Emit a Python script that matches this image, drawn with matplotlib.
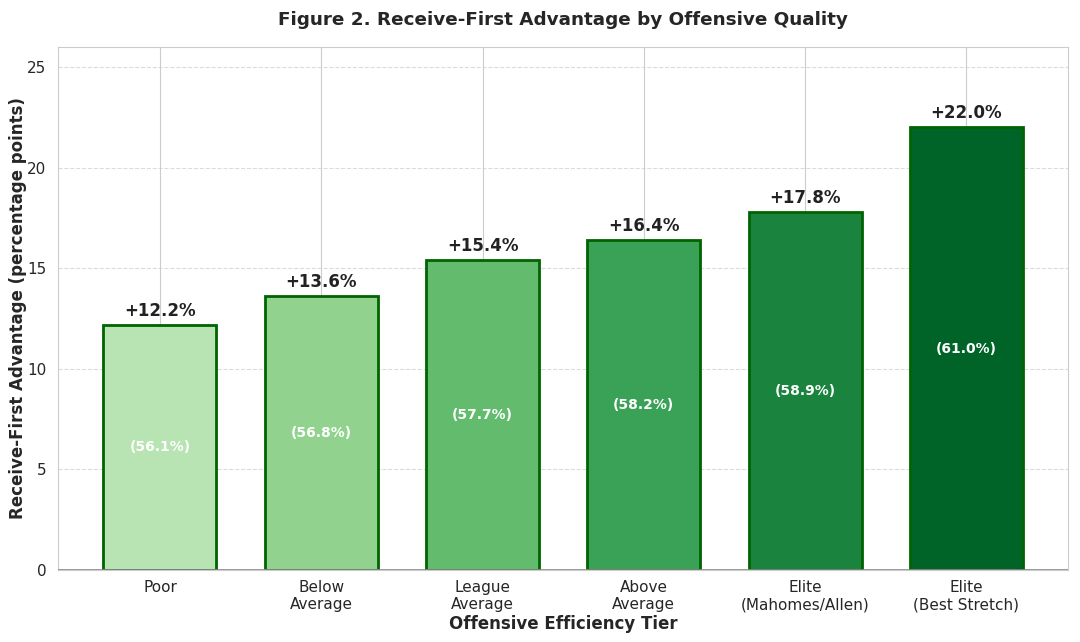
import numpy as np
import matplotlib
matplotlib.use("Agg")
import matplotlib.pyplot as plt
import seaborn as sns

tiers = ["Poor", "Below\nAverage", "League\nAverage", "Above\nAverage",
         "Elite\n(Mahomes/Allen)", "Elite\n(Best Stretch)"]
advantage = [12.2, 13.6, 15.4, 16.4, 17.8, 22.0]
win_rate = [56.1, 56.8, 57.7, 58.2, 58.9, 61.0]

sns.set_style("whitegrid")
plt.rcParams['font.family'] = ['DejaVu Sans']

colors = plt.cm.Greens(np.linspace(0.3, 0.9, len(tiers)))

fig, ax = plt.subplots(figsize=(10.8, 6.42), dpi=100)
x = np.arange(len(tiers))
bars = ax.bar(x, advantage, width=0.7, color=colors, edgecolor="#006400", linewidth=2)

for xi, adv, wr in zip(x, advantage, win_rate):
    ax.text(xi, adv + 0.25, f"+{adv:.1f}%", ha="center", va="bottom",
            fontsize=12, fontweight="bold", color="#222222")
    ax.text(xi, adv / 2, f"({wr:.1f}%)", ha="center", va="center",
            fontsize=10, fontweight="bold", color="white")

# baseline over the bar bottoms
ax.axhline(0, color="#888888", linewidth=1.2, zorder=5)

ax.set_xticks(x)
ax.set_xticklabels(tiers, fontsize=11)
ax.tick_params(axis="y", labelsize=11, pad=5)
ax.set_ylim(0, 26)
ax.set_xlim(-0.63, 5.63)
ax.grid(True, axis="y", linestyle="--", alpha=0.7)
ax.set_axisbelow(True)
ax.set_ylabel("Receive-First Advantage (percentage points)", fontsize=12,
              fontweight="bold", labelpad=0)
ax.set_xlabel("Offensive Efficiency Tier", fontsize=12, fontweight="bold", labelpad=2)
ax.set_title("Figure 2. Receive-First Advantage by Offensive Quality",
             fontsize=13.2, fontweight="bold", pad=16)

plt.subplots_adjust(left=0.054, right=0.989, top=0.927, bottom=0.112)
plt.savefig("out.png")
